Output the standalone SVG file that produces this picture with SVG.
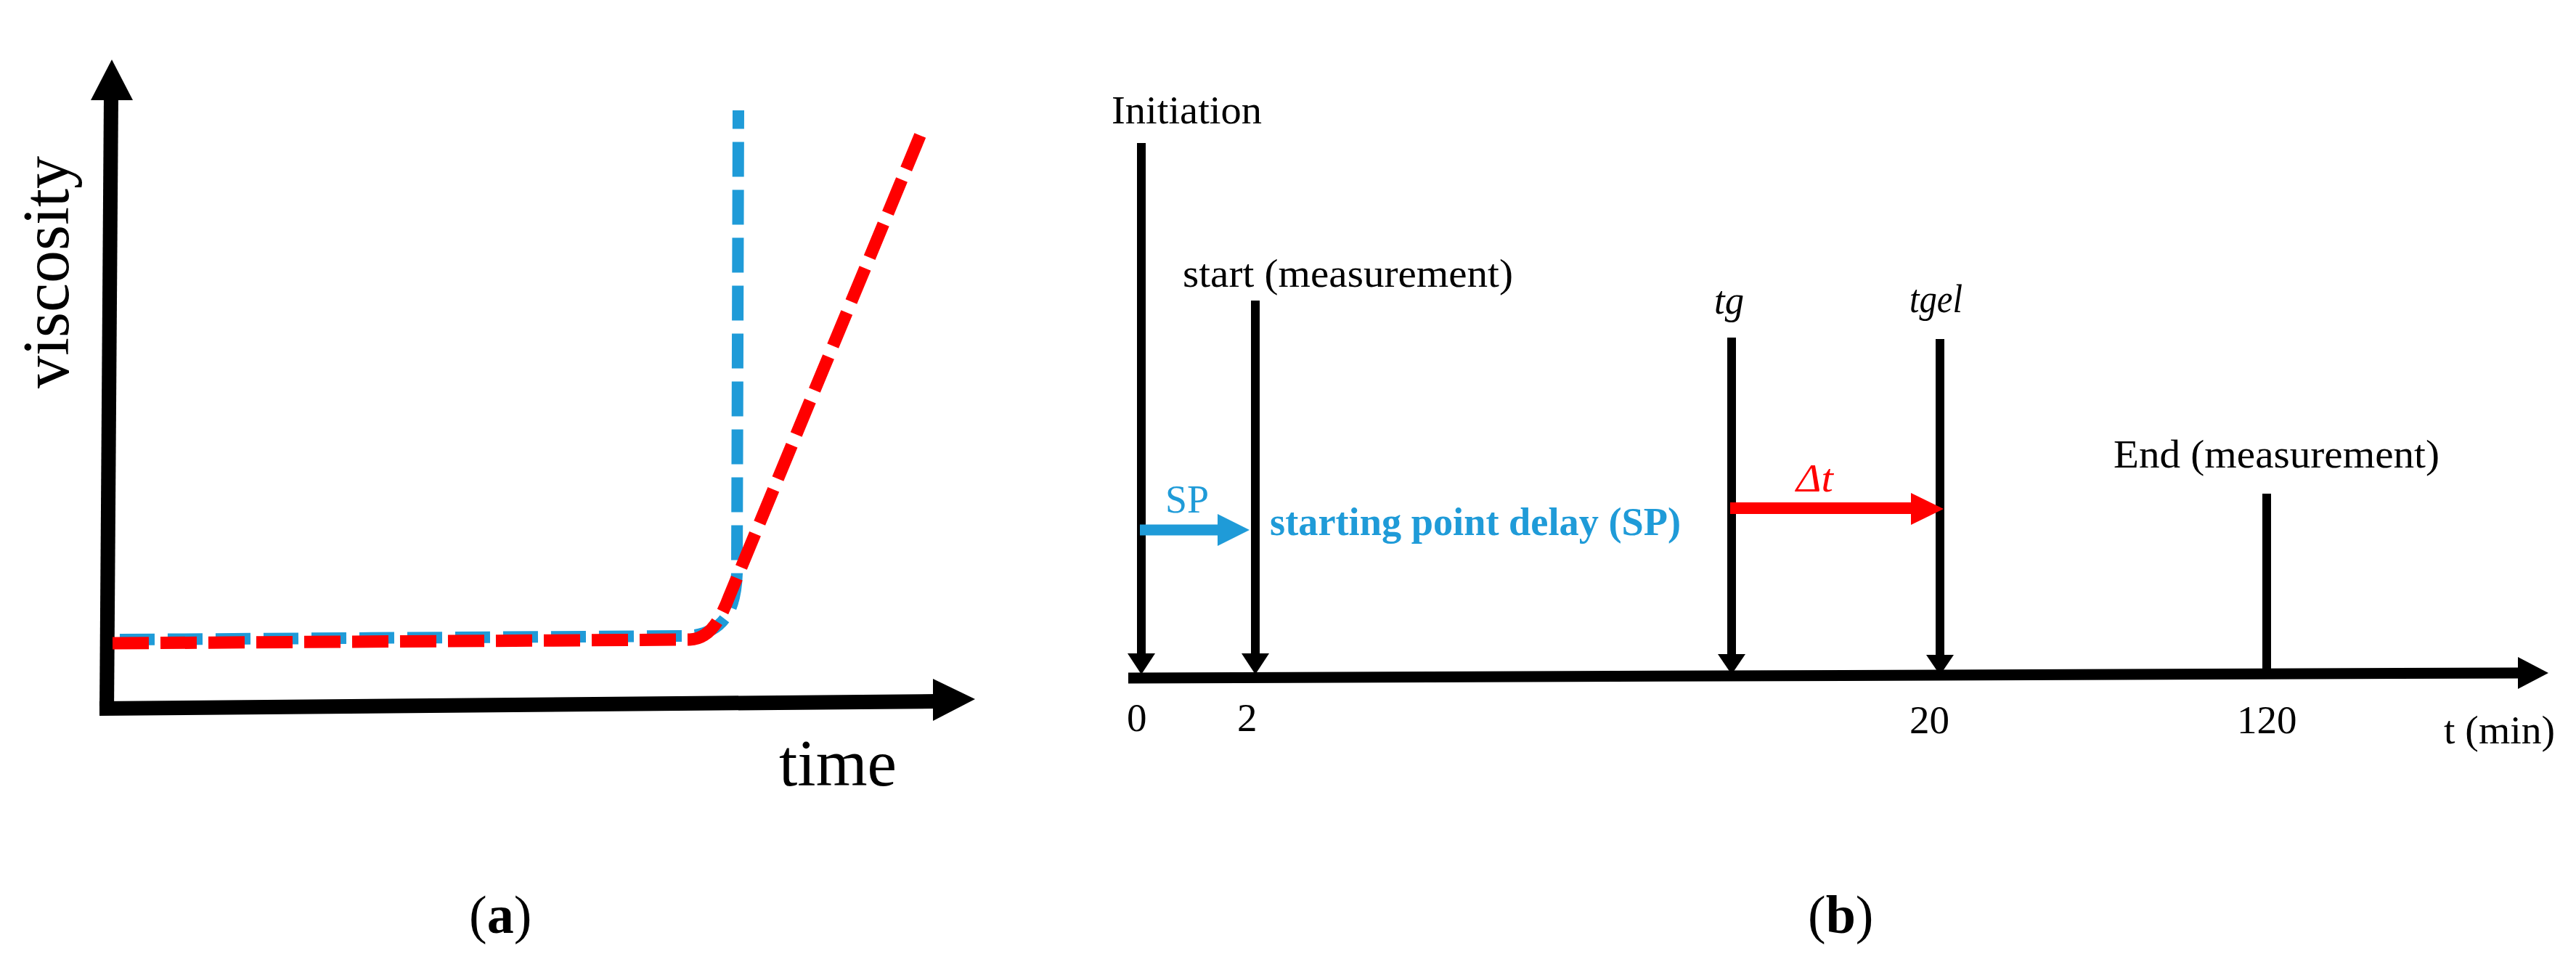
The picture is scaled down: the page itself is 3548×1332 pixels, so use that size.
<svg xmlns="http://www.w3.org/2000/svg" width="3548" height="1332" viewBox="0 0 3548 1332">
<style>
text{font-family:"Liberation Serif","Times New Roman",serif;fill:#000}
.big{font-size:90px}
.lbl{font-size:55px}
.cap{font-size:74px}
.blue{fill:#1f9bd8}
.red{fill:#ff0000}
.it{font-style:italic}
.ax{stroke:#000;fill:none}
.tick{stroke:#000;stroke-width:12;fill:none}
</style>
<rect width="3548" height="1332" fill="#fff"/>
<g id="panel-a">
  <g id="axes-a">
    <line class="ax" x1="147" y1="985" x2="153" y2="132" stroke-width="20"/>
    <polygon points="154,82 125,138 183,138" fill="#000"/>
    <line class="ax" x1="137" y1="976" x2="1290" y2="966" stroke-width="20"/>
    <polygon points="1343,963 1285,935 1285,993" fill="#000"/>
  </g>
  <g id="curve-blue">
    <path d="M165 881 L945 876 C990 874 1013 850 1015 790 L1017 152" fill="none" stroke="#1f9bd8" stroke-width="16" stroke-dasharray="48 18"/>
  </g>
  <g id="curve-red">
    <path d="M155 886 L950 881 C975 880 990 860 1005 820 L1270 180" fill="none" stroke="#ff0000" stroke-width="17" stroke-dasharray="50 16"/>
  </g>
  <text id="label-viscosity" class="big" transform="translate(94,535) rotate(-90)" textLength="320" lengthAdjust="spacingAndGlyphs">viscosity</text>
  <text id="label-time" class="big" x="1073" y="1082" textLength="162" lengthAdjust="spacingAndGlyphs">time</text>
  <text id="caption-a" class="cap" x="646" y="1285">(<tspan font-weight="bold">a</tspan>)</text>
</g>
<g id="panel-b">
  <g id="connectors">
    <line class="ax" x1="1554" y1="934" x2="3472" y2="927" stroke-width="15"/>
    <polygon points="3510,927 3468,905 3468,949" fill="#000"/>
    <line class="tick" x1="1572" y1="197" x2="1572" y2="905"/>
    <polygon points="1553,900 1591,900 1572,929" fill="#000"/>
    <line class="tick" x1="1729" y1="414" x2="1729" y2="905"/>
    <polygon points="1710,900 1748,900 1729,929" fill="#000"/>
    <line class="tick" x1="2385" y1="465" x2="2385" y2="905"/>
    <polygon points="2366,901 2404,901 2385,929" fill="#000"/>
    <line class="tick" x1="2672" y1="467" x2="2672" y2="905"/>
    <polygon points="2653,902 2691,902 2672,930" fill="#000"/>
    <line class="tick" x1="3122" y1="680" x2="3122" y2="931"/>
    <line x1="1570" y1="730" x2="1682" y2="730" stroke="#1f9bd8" stroke-width="15"/>
    <polygon points="1721,730 1677,708 1677,752" fill="#1f9bd8"/>
    <line x1="2383" y1="700" x2="2636" y2="700" stroke="#ff0000" stroke-width="16"/>
    <polygon points="2677,701 2632,679 2632,723" fill="#ff0000"/>
  </g>
  <g id="node-initiation"><text class="lbl" x="1531" y="170" textLength="207" lengthAdjust="spacingAndGlyphs">Initiation</text></g>
  <g id="node-start"><text class="lbl" x="1629" y="395" textLength="455" lengthAdjust="spacingAndGlyphs">start (measurement)</text></g>
  <g id="node-tg"><text class="lbl it" x="2361" y="432" textLength="41" lengthAdjust="spacingAndGlyphs">tg</text></g>
  <g id="node-tgel"><text class="lbl it" x="2630" y="430" textLength="73" lengthAdjust="spacingAndGlyphs">tgel</text></g>
  <g id="node-end"><text class="lbl" x="2911" y="644" textLength="449" lengthAdjust="spacingAndGlyphs">End (measurement)</text></g>
  <g id="node-sp">
    <text class="lbl blue" x="1605" y="706" textLength="60" lengthAdjust="spacingAndGlyphs">SP</text>
    <text class="lbl blue" font-weight="bold" x="1749" y="737" textLength="566" lengthAdjust="spacingAndGlyphs">starting point delay (SP)</text>
  </g>
  <g id="node-dt"><text class="lbl red it" x="2474" y="677" textLength="51" lengthAdjust="spacingAndGlyphs">Δt</text></g>
  <g id="ticks">
    <text class="lbl" x="1552" y="1007">0</text>
    <text class="lbl" x="1704" y="1007">2</text>
    <text class="lbl" x="2630" y="1010">20</text>
    <text class="lbl" x="3081" y="1010">120</text>
    <text class="lbl" x="3366" y="1024" textLength="153" lengthAdjust="spacingAndGlyphs">t (min)</text>
  </g>
  <text id="caption-b" class="cap" x="2490" y="1285">(<tspan font-weight="bold">b</tspan>)</text>
</g>
</svg>
